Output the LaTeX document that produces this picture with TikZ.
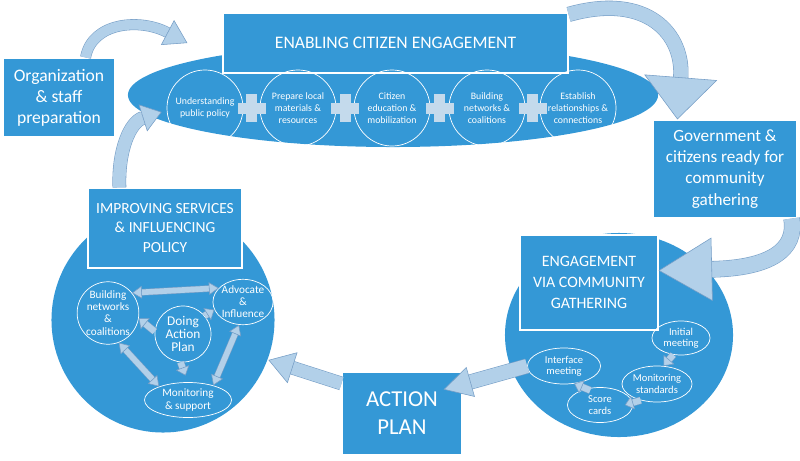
\documentclass[tikz,border=0pt]{standalone}
\usepackage{fontspec}
\setmainfont{Carlito}
\usetikzlibrary{arrows.meta, positioning, shapes.geometric, calc}
\definecolor{cgblue}{RGB}{52,152,214}
\definecolor{cgarrow}{RGB}{178,208,233}
\definecolor{cgedge}{RGB}{118,158,198}
\definecolor{cgplus}{RGB}{196,218,236}

\tikzset{
  bluebox/.style={rectangle, fill=cgblue, draw=white, line width=0.8pt, text=white, align=center, inner sep=0pt},
  blob/.style={ellipse, fill=cgblue, inner sep=0pt},
  stepcirc/.style={circle, draw=white, line width=0.5pt, text=white, align=center, inner sep=0pt, minimum size=1.9cm, font=\fontsize{7}{8.3}\selectfont},
  subell/.style={ellipse, draw=white, line width=0.5pt, text=white, align=center, inner sep=0pt, font=\fontsize{8}{8.6}\selectfont},
  blockarrow/.style n args={3}{draw=cgedge, line width=0.4pt, double=cgarrow, double distance=#1,
    -{Triangle[width=#2, length=#3, fill=cgarrow, line width=0.4pt]}},
  twoway/.style n args={3}{draw=cgedge, line width=0.4pt, double=cgarrow, double distance=#1,
    {Triangle[width=#2, length=#3, fill=cgarrow, line width=0.4pt]}-{Triangle[width=#2, length=#3, fill=cgarrow, line width=0.4pt]}},
}

\begin{document}
\begin{tikzpicture}[x=0.025cm, y=-0.025cm]
  \useasboundingbox (0,0) rectangle (800,460);

  % --- Top: enabling citizen engagement ---
  \node[blob, minimum width=13.25cm, minimum height=2.6cm] (topell) at (393,95) {};
  \node[bluebox, minimum width=8.625cm, minimum height=1.5cm, font=\fontsize{12.5}{14}\selectfont] (enabling) at (395.5,43) {ENABLING CITIZEN ENGAGEMENT};
  \node[stepcirc] (c1) at (205,108) {Understanding\\public policy};
  \node[stepcirc] (c2) at (298,108) {Prepare local\\materials \&\\resources};
  \node[stepcirc] (c3) at (392,108) {Citizen\\education \&\\mobilization};
  \node[stepcirc] (c4) at (487,108) {Building\\networks \&\\coalitions};
  \node[stepcirc] (c5) at (578,108) {Establish\\relationships \&\\connections};
  \foreach \a/\b in {c1/c2,c2/c3,c3/c4,c4/c5}{
    \fill[cgplus] ($(\a)!0.5!(\b)$) ++(-14,-5.5) rectangle ++(28,11);
    \fill[cgplus] ($(\a)!0.5!(\b)$) ++(-5.5,-14) rectangle ++(11,28);
  }

  % --- Side boxes ---
  \node[bluebox, minimum width=2.8cm, minimum height=1.975cm, font=\fontsize{12.5}{15}\selectfont] (org) at (59,97.5) {Organization\\\& staff\\preparation};
  \node[bluebox, minimum width=3.6cm, minimum height=2.45cm, font=\fontsize{12.2}{15}\selectfont] (gov) at (725,169) {Government \&\\citizens ready for\\community\\gathering};

  % --- Right: engagement via community gathering ---
  \node[blob, minimum width=5.7cm, minimum height=5.1cm] (engblob) at (619,335) {};
  \node[bluebox, minimum width=3.45cm, minimum height=2.375cm, font=\fontsize{11.3}{15}\selectfont] (engbox) at (589,282.5) {ENGAGEMENT\\VIA COMMUNITY\\GATHERING};
  \node[subell, minimum width=1.45cm, minimum height=0.85cm, font=\fontsize{7.5}{8}\selectfont] (initial) at (681,338) {Initial\\meeting};
  \node[subell, minimum width=1.75cm, minimum height=0.9cm, font=\fontsize{7.5}{8}\selectfont] (monstd) at (657,384) {Monitoring\\standards};
  \node[subell, minimum width=1.625cm, minimum height=0.875cm, font=\fontsize{7.5}{8}\selectfont] (score) at (600,405) {Score\\cards};
  \node[subell, minimum width=1.825cm, minimum height=0.9cm, font=\fontsize{7.5}{8}\selectfont] (interface) at (564,366) {Interface\\meeting};

  % --- Bottom: action plan ---
  \node[bluebox, minimum width=3cm, minimum height=2.075cm, font=\fontsize{16.2}{20}\selectfont] (action) at (402,413.5) {ACTION\\PLAN};

  % --- Left: improving services ---
  \node[blob, minimum width=5.575cm, minimum height=5.625cm] (impblob) at (163,320) {};
  \node[bluebox, minimum width=3.85cm, minimum height=2cm, font=\fontsize{11}{14}\selectfont] (impbox) at (165,228) {IMPROVING SERVICES\\\& INFLUENCING\\POLICY};
  \node[subell, minimum width=1.475cm, minimum height=1.175cm] (building) at (108,313) {Building\\networks\\\&\\coalitions};
  \node[subell, minimum width=1.425cm, minimum height=1.05cm] (advocate) at (243,302) {Advocate\\\&\\Influence};
  \node[subell, minimum width=1.4cm, minimum height=1.4cm, font=\fontsize{9.5}{9.5}\selectfont] (doing) at (183,334) {Doing\\Action\\Plan};
  \node[subell, minimum width=2.175cm, minimum height=0.875cm] (monitor) at (188,400) {Monitoring\\\& support};

  % inner arrows, left
  \draw[twoway={4pt}{9pt}{7pt}] (building.40) -- (advocate.150);
  \draw[twoway={4pt}{9pt}{7pt}] (building.-70) -- (monitor.155);
  \draw[twoway={4pt}{9pt}{7pt}] (advocate.-100) -- (monitor.30);
  \draw[blockarrow={4.5pt}{10pt}{6pt}] (doing.175) -- (building.-10);
  \draw[blockarrow={4.5pt}{10pt}{6pt}] (doing.40) -- (advocate.195);
  \draw[blockarrow={4.5pt}{10pt}{6pt}, shorten >=5pt] (doing.-95) -- (monitor.north);

  % inner arrows, right
  \draw[blockarrow={4.5pt}{10pt}{6pt}] (initial.-115) -- (monstd.70);
  \draw[blockarrow={4.5pt}{10pt}{6pt}] (monstd.-135) -- ([xshift=-0.2cm]score.east);
  \draw[blockarrow={4.5pt}{10pt}{6pt}, shorten <=-3pt] (score.130) -- (interface.-60);

  % --- Cycle arrows ---
  \coordinate (orgtail) at ([xshift=-0.75cm]org.north east);
  \coordinate (orghead) at ([xshift=-0.875cm]enabling.west);
  \draw[blockarrow={7pt}{20pt}{16pt}] (orgtail) .. controls (92,22) and (140,18) .. (orghead);

  \coordinate (imptail) at ([xshift=0.8cm]impbox.north west);
  \coordinate (imphead) at ([xshift=0.85cm, yshift=-0.425cm]topell.west);
  \draw[blockarrow={9pt}{20pt}{14pt}] (imptail) .. controls (118,150) and (130,122) .. (imphead);

  \coordinate (entail) at ([yshift=-0.05cm]enabling.north east);
  \coordinate (govhead) at ([xshift=0.625cm]gov.north west);
  \draw[blockarrow={10pt}{52pt}{30pt}] (entail) .. controls (648,-8) and (684,35) .. (govhead);

  \coordinate (govtail) at ([xshift=-0.15cm]gov.south east);
  \coordinate (enghead) at ([yshift=0.3cm]engbox.east);
  \draw[blockarrow={11pt}{45pt}{38pt}] (govtail) .. controls (797,250) and (770,268) .. (enghead);

  \draw[blockarrow={10pt}{22pt}{20pt}] (interface.west) -- ([xshift=-0.475cm, yshift=0.6cm]action.east);

  \draw[blockarrow={9pt}{23pt}{18pt}] ([yshift=0.75cm]action.west) -- ([xshift=-0.16cm, yshift=-1cm]impblob.east);
\end{tikzpicture}
\end{document}
